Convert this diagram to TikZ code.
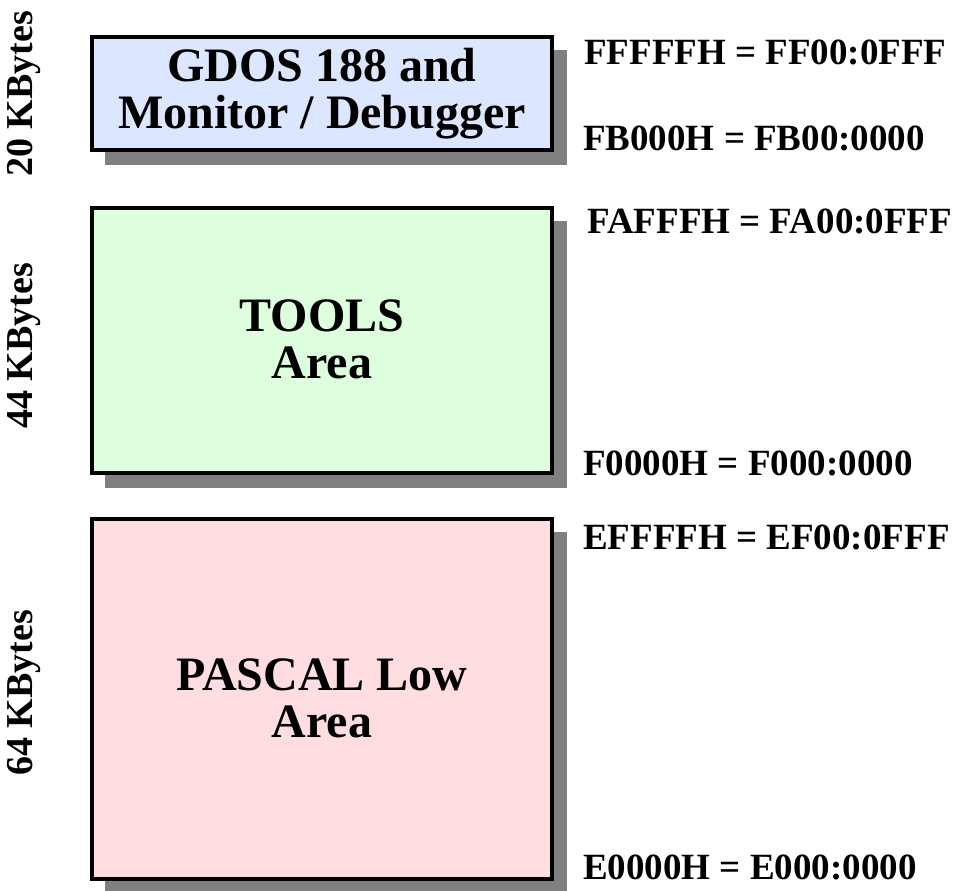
\documentclass[tikz,border=0pt]{standalone}
\usepackage{fontspec}
\setmainfont{Liberation Serif}
\begin{document}
\begin{tikzpicture}[x=1pt,y=-1pt,
  block/.style={align=center,font=\bfseries\fontsize{48}{47}\selectfont,inner sep=0pt},
  shade/.style={fill=black!50,draw=none},
  addr/.style={anchor=west,font=\bfseries\fontsize{37}{40}\selectfont,inner sep=0pt},
  size/.style={rotate=90,font=\bfseries\fontsize{38}{40}\selectfont,inner sep=0pt}]
\useasboundingbox (0,0) rectangle (961,891);
\definecolor{gdosfill}{HTML}{DDE6FF}
\definecolor{toolfill}{HTML}{DDFFDD}
\definecolor{pascfill}{HTML}{FFDDE0}
% drop shadows
\fill[shade] (105,50) rectangle (567,165);
\fill[shade] (105,221) rectangle (567,488);
\fill[shade] (105,532) rectangle (567,891);
% memory blocks
\draw[line width=4pt,fill=gdosfill] (92,37) rectangle (552,150);
\draw[line width=4pt,fill=toolfill] (92,208) rectangle (552,473);
\draw[line width=4pt,fill=pascfill] (92,519) rectangle (552,879);
\node[block] (gdos) at (322,94) {GDOS 188 and\\Monitor / Debugger};
\node[block] (tools) at (322,339) {TOOLS\\Area};
\node[block] (pascal) at (322,698) {PASCAL Low\\Area};
% addresses
\node[addr] (a1) at (584,52) {FFFFFH = FF00:0FFF};
\node[addr] (a2) at (583,138) {FB000H = FB00:0000};
\node[addr] (a3) at (587,221) {FAFFFH = FA00:0FFF};
\node[addr] (a4) at (583,463) {F0000H = F000:0000};
\node[addr] (a5) at (583,537) {EFFFFH = EF00:0FFF};
\node[addr] (a6) at (583,867) {E0000H = E000:0000};
% sizes
\node[size] (s1) at (24,94) {20 KBytes};
\node[size] (s2) at (24,346) {44 KBytes};
\node[size] (s3) at (24,693) {64 KBytes};
\end{tikzpicture}
\end{document}
